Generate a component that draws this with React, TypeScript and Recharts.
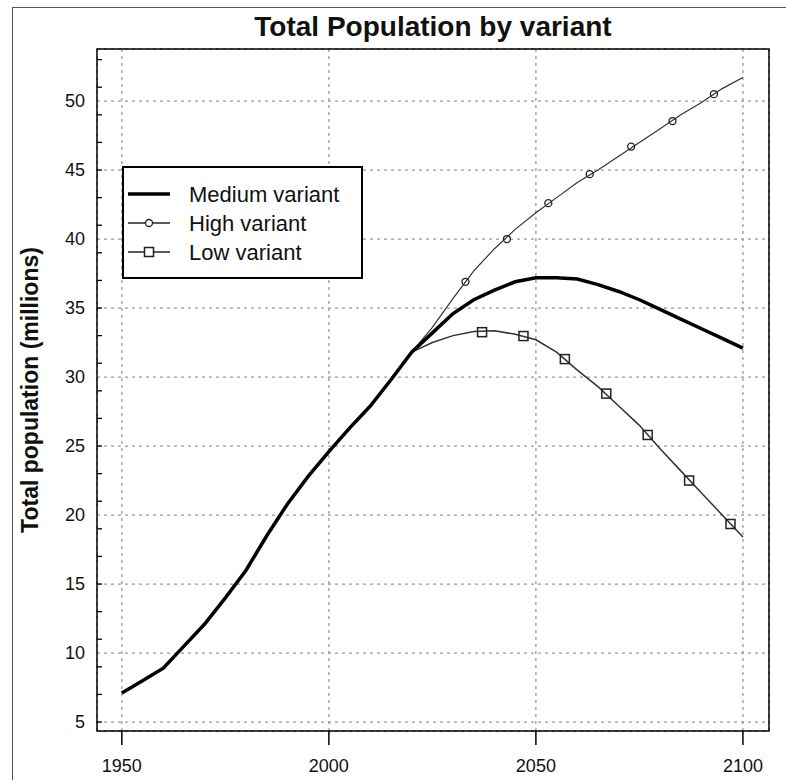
import React from 'react'
import { ComposedChart, Line, Scatter, XAxis, YAxis, CartesianGrid, ReferenceArea } from 'recharts'

// shared estimates + medium projection, every 5 years
const mediumYears = [1950, 1955, 1960, 1965, 1970, 1975, 1980, 1985, 1990, 1995, 2000, 2005, 2010, 2015, 2020, 2025, 2030, 2035, 2040, 2045, 2050, 2055, 2060, 2065, 2070, 2075, 2080, 2085, 2090, 2095, 2100]
const mediumValues = [7.1, 8.0, 8.9, 10.5, 12.1, 14.0, 16.0, 18.5, 20.8, 22.8, 24.6, 26.3, 27.9, 29.8, 31.8, 33.2, 34.6, 35.6, 36.3, 36.9, 37.2, 37.2, 37.1, 36.7, 36.2, 35.6, 34.9, 34.2, 33.5, 32.8, 32.1]

const projYears = [2020, 2025, 2030, 2035, 2040, 2045, 2050, 2055, 2060, 2065, 2070, 2075, 2080, 2085, 2090, 2095, 2100]
const highValues = [31.8, 33.6, 35.7, 37.7, 39.3, 40.7, 41.9, 43.0, 44.1, 45.0, 46.0, 47.0, 48.0, 49.0, 49.9, 50.9, 51.7]
const lowValues = [31.8, 32.5, 33.0, 33.3, 33.35, 33.1, 32.7, 31.8, 30.5, 29.3, 27.9, 26.5, 24.8, 23.2, 21.6, 20.0, 18.4]

// marker positions as plotted
const highMarkYears = [2033, 2043, 2053, 2063, 2073, 2083, 2093]
const highMarkValues = [36.9, 40.0, 42.6, 44.7, 46.7, 48.55, 50.5]
const lowMarkYears = [2037, 2047, 2057, 2067, 2077, 2087, 2097]
const lowMarkValues = [33.25, 32.97, 31.3, 28.8, 25.8, 22.5, 19.35]

const xTicks = [1950, 2000, 2050, 2100]
const yTicks = [5, 10, 15, 20, 25, 30, 35, 40, 45, 50]
const yMinorTicks = Array.from({ length: 49 }, (_, i) => 5 + i)

const X_DOMAIN: [number, number] = [1944, 2106.3]
const Y_DOMAIN: [number, number] = [4.35, 53.77]

const toRows = (xs: number[], ys: number[]) => xs.map((year, i) => ({ year, value: ys[i] }))

const medium = toRows(mediumYears, mediumValues)
const high = toRows(projYears, highValues)
const low = toRows(projYears, lowValues)
const highMarks = toRows(highMarkYears, highMarkValues)
const lowMarks = toRows(lowMarkYears, lowMarkValues)

const font = '"Liberation Sans", Arial, sans-serif'

const CircleMark = (p: any) => (
  <circle cx={p.cx} cy={p.cy} r={3.5} fill="none" stroke="#222" strokeWidth={1.3} />
)
const SquareMark = (p: any) => (
  <rect x={p.cx - 4.5} y={p.cy - 4.5} width={9} height={9} fill="none" stroke="#222" strokeWidth={1.5} />
)
// small inward tick on the left frame, one per unit
const MinorTick = (p: any) => (
  <line x1={p.x} x2={p.x + 5} y1={p.y} y2={p.y} stroke="#000" strokeWidth={1.3} />
)

function LegendBox() {
  return (
    <svg width={241} height={113} style={{ position: 'absolute', left: 122, top: 166 }}>
      <rect x={1} y={1} width={239} height={111} fill="#fff" stroke="#000" strokeWidth={2} />
      <line x1={6} x2={48} y1={28} y2={28} stroke="#000" strokeWidth={3.5} />
      <line x1={6} x2={48} y1={57} y2={57} stroke="#222" strokeWidth={1.3} />
      <circle cx={27} cy={57} r={3.5} fill="#fff" stroke="#222" strokeWidth={1.3} />
      <line x1={6} x2={48} y1={86} y2={86} stroke="#222" strokeWidth={1.5} />
      <rect x={22.5} y={81.5} width={9} height={9} fill="#fff" stroke="#222" strokeWidth={1.5} />
      <g fontFamily={font} fontSize={22} fill="#111">
        <text x={67} y={36}>Medium variant</text>
        <text x={67} y={65}>High variant</text>
        <text x={67} y={94}>Low variant</text>
      </g>
    </svg>
  )
}

export default function App() {
  return (
    <div style={{ position: 'relative', width: 786, height: 780, overflow: 'hidden', background: '#fff', fontFamily: font }}>
      <style>{'body{margin:0}'}</style>
      <div style={{ position: 'absolute', left: 12, top: 7, width: 800, height: 800, border: '1px solid #555' }} />

      <div style={{ position: 'absolute', left: 97, top: 11, width: 672, textAlign: 'center', fontSize: 28, fontWeight: 'bold', color: '#111', lineHeight: 1.15 }}>
        Total Population by variant
      </div>
      <div style={{ position: 'absolute', left: 30, top: 390, transform: 'translate(-50%, -50%) rotate(-90deg)', whiteSpace: 'nowrap', fontSize: 23, fontWeight: 'bold', color: '#111' }}>
        Total population (millions)
      </div>

      <ComposedChart width={786} height={780} margin={{ top: 49, right: 17, bottom: 0, left: 0 }} style={{ position: 'absolute', left: 0, top: 0 }}>
        <CartesianGrid yAxisId="y" stroke="#9a9a9a" strokeDasharray="3 4" strokeWidth={1.3} />
        <XAxis
          type="number"
          dataKey="year"
          domain={X_DOMAIN}
          ticks={xTicks}
          allowDataOverflow
          height={49}
          axisLine={false}
          tickSize={14}
          tickMargin={14}
          tickLine={{ stroke: '#000', strokeWidth: 1.5 }}
          tick={{ fontSize: 18, fill: '#111', fontFamily: font }}
        />
        <YAxis
          yAxisId="y"
          type="number"
          domain={Y_DOMAIN}
          ticks={yTicks}
          allowDataOverflow
          width={97}
          axisLine={false}
          tickLine={false}
          tickSize={0}
          tickMargin={12}
          tick={{ fontSize: 18, fill: '#111', fontFamily: font }}
        />
        <YAxis
          yAxisId="minor"
          type="number"
          domain={Y_DOMAIN}
          ticks={yMinorTicks}
          allowDataOverflow
          mirror
          axisLine={false}
          tickLine={false}
          tickSize={0}
          tickMargin={0}
          tick={MinorTick}
        />
        <Line yAxisId="y" data={low} dataKey="value" type="linear" stroke="#333" strokeWidth={1.5} dot={false} isAnimationActive={false} />
        <Line yAxisId="y" data={high} dataKey="value" type="linear" stroke="#333" strokeWidth={1.2} dot={false} isAnimationActive={false} />
        <Line yAxisId="y" data={medium} dataKey="value" type="linear" stroke="#000" strokeWidth={3.5} dot={false} isAnimationActive={false} />
        <Scatter yAxisId="y" data={highMarks} dataKey="value" shape={CircleMark} isAnimationActive={false} />
        <Scatter yAxisId="y" data={lowMarks} dataKey="value" shape={SquareMark} isAnimationActive={false} />
        <ReferenceArea yAxisId="y" x1={X_DOMAIN[0]} x2={X_DOMAIN[1]} y1={Y_DOMAIN[0]} y2={Y_DOMAIN[1]} fill="none" fillOpacity={0} stroke="#000" strokeWidth={1.5} />
      </ComposedChart>

      <LegendBox />
    </div>
  )
}
